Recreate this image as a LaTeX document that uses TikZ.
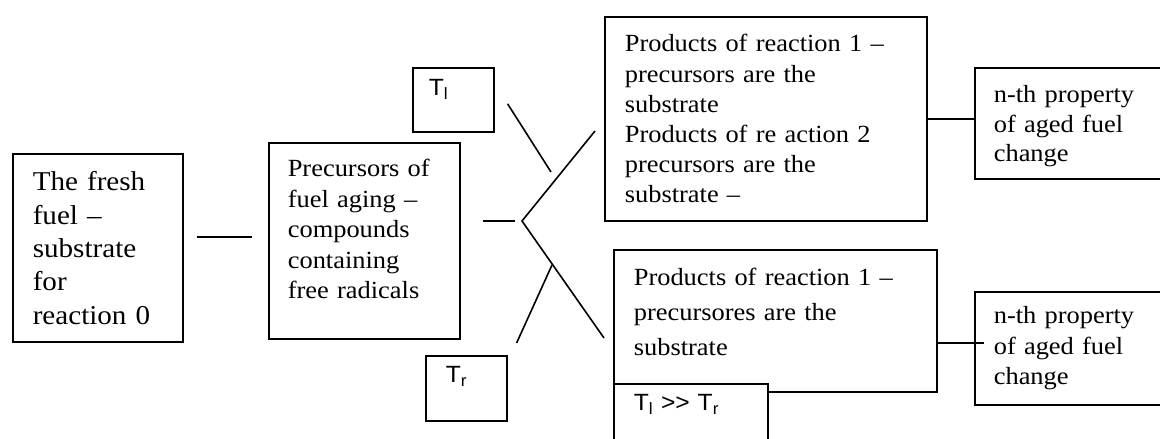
\documentclass[tikz,border=0pt]{standalone}
\usepackage{fontspec}
\setmainfont[FakeStretch=1.07]{Liberation Serif}
\setsansfont[FakeStretch=1.05]{Liberation Sans}
\newcommand{\Tl}{T\textsubscript{l}}
\newcommand{\Tr}{T\textsubscript{r}}

\begin{document}
\begin{tikzpicture}[
  x=1pt, y=-1pt,
  line width=1.6pt,
  every node/.style={font=\fontsize{24.7}{30.3}\selectfont},
  box/.style={draw, line width=1.6pt, anchor=north west, align=left, inner xsep=20pt, inner ysep=0pt, fill=white},
  tbox/.style={box, font=\sffamily\fontsize{23.5}{28}\selectfont}
]
\useasboundingbox (0,0) rectangle (1160,439);
\clip (0,0) rectangle (1160,439);
\node[box, text width=130pt, text height=37pt, text depth=151pt, font=\fontsize{27.2}{33.3}\selectfont] (fresh) at (12,153) {The fresh\\fuel --\\substrate\\for\\reaction 0};
\node[box, inner xsep=19pt, text width=153pt, text height=34pt, text depth=162pt, font=\fontsize{24.7}{30.5}\selectfont] (prec) at (268,142) {Precursors of\\fuel aging --\\compounds\\containing\\free radicals};
\node[tbox, inner xsep=16pt, text width=49pt, text height=28pt, text depth=36pt] (tl) at (412,67) {\Tl};
\node[tbox, text width=41pt, text height=27pt, text depth=38pt] (tr) at (425,355) {\Tr};
\node[box, text width=282pt, text height=35pt, text depth=169pt, font=\fontsize{24.7}{30.2}\selectfont] (prodA) at (604,16) {Products of reaction 1 --\\precursors are the\\substrate\\Products of re action 2\\precursors are the\\substrate --};
\node[box, text width=283pt, text height=36pt, text depth=106pt, font=\fontsize{24.7}{35}\selectfont] (prodB) at (613,249) {Products of reaction 1 --\\precursores are the\\substrate};
\node[tbox, text width=114pt, text height=27pt, text depth=60pt] (tcmp) at (613,383) {\Tl{} >{}> \Tr};
\node[box, inner xsep=19pt, text width=202pt, text height=35pt, text depth=76pt, font=\fontsize{24.7}{29.5}\selectfont] (propA) at (974,67) {n-th property\\of aged fuel\\change};
\node[box, inner xsep=19pt, text width=202pt, text height=32pt, text depth=81pt, font=\fontsize{24.7}{30.5}\selectfont] (propB) at (974,291) {n-th property\\of aged fuel\\change};
% fork between the precursors and the two reaction paths
\coordinate (fork) at (522,221);
\coordinate (forkA) at (595,131);
\coordinate (forkB) at (604,338);
\coordinate (tlend) at (551,172);
\coordinate (trend) at (552,265);
\draw ([shift={(13,-11)}]fresh.east) -- ([shift={(-16,-4)}]prec.west);
\draw ([xshift=22pt]prec.east |- fork) -- ([xshift=-7pt]fork);
\draw (forkA) -- (fork) -- (forkB);
\draw ([shift={(13,4)}]tl.east) -- (tlend);
\draw ([shift={(9,-12)}]tr.north east) -- (trend);
\draw (prodA.east) -- (prodA.east -| propA.west);
\draw ([yshift=5.5pt]propB.west -| prodB.east) -- ([xshift=10pt,yshift=5.5pt]propB.west);
\end{tikzpicture}
\end{document}
